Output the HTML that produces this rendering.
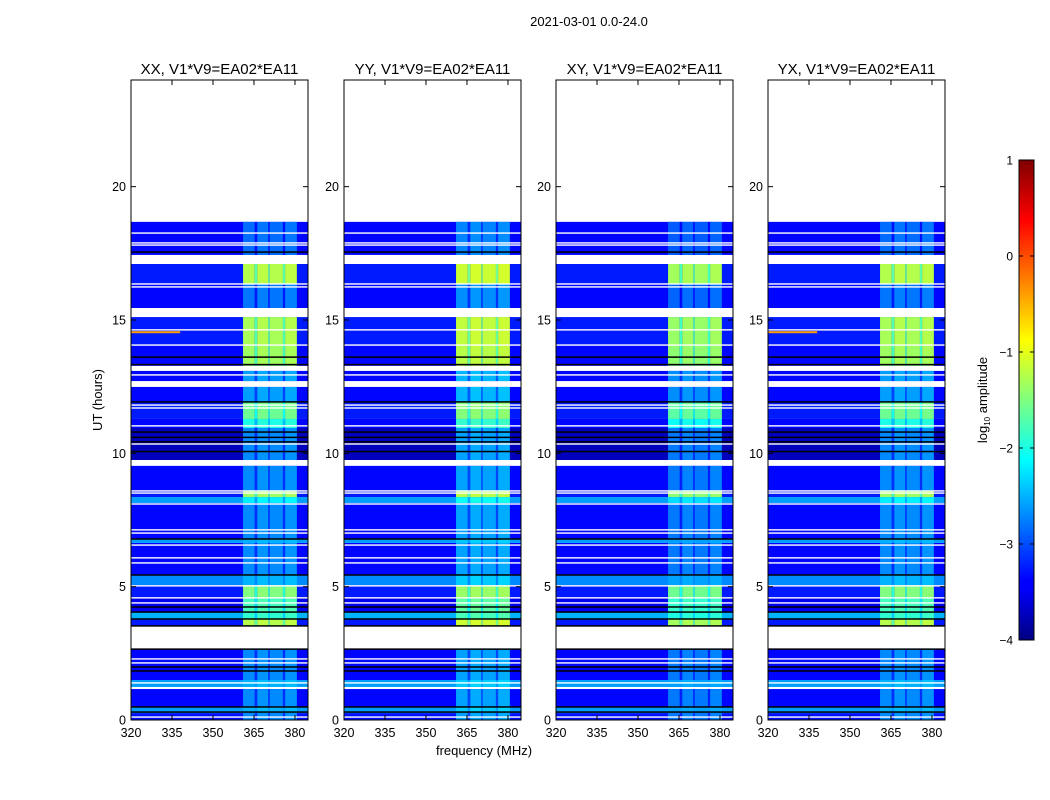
<!DOCTYPE html>
<html><head><meta charset="utf-8"><style>
body{margin:0;background:#fff;}
svg{display:block;font-family:"Liberation Sans","DejaVu Sans",sans-serif;}
</style></head><body>
<svg id="chart" width="1050" height="800" viewBox="0 0 1050 800">
<defs>
<linearGradient id="jet" x1="0" y1="1" x2="0" y2="0">
<stop offset="0" stop-color="#000080"/><stop offset="0.11" stop-color="#0000ff"/><stop offset="0.125" stop-color="#0000ff"/>
<stop offset="0.375" stop-color="#00ffff"/><stop offset="0.625" stop-color="#ffff00"/><stop offset="0.875" stop-color="#ff0000"/><stop offset="1" stop-color="#800000"/>
</linearGradient>
</defs>
<text x="589" y="26" font-size="13" text-anchor="middle">2021-03-01 0.0-24.0</text>
<text transform="translate(102,400) rotate(-90)" font-size="13" text-anchor="middle">UT (hours)</text>
<text x="484" y="755" font-size="13" text-anchor="middle">frequency (MHz)</text>
<g id="panels"></g>
<g>
<rect x="1019" y="160" width="15" height="480" fill="url(#jet)" stroke="#000" stroke-width="1"/>
<g id="cbticks"></g>
<text transform="translate(987,400) rotate(-90)" font-size="13" text-anchor="middle">log<tspan font-size="8" dy="3">10</tspan><tspan dy="-3"> amplitude</tspan></text>
</g>
</svg>
<script>
// ---- data ----
const panelTitles = ["XX, V1*V9=EA02*EA11","YY, V1*V9=EA02*EA11","XY, V1*V9=EA02*EA11","YX, V1*V9=EA02*EA11"];
const panelBandOffset = [0, 0.12, -0.08, 0];
// rows: [startHour, endHour, baseLevel, bandLevel]
const rowStart = [0,0.26,0.49,1.24,1.50,3.53,3.79,4.05,4.58,5.06,5.44,6.64,6.79,8.14,8.36,8.59,9.75,10.95,11.29,11.93,12.71,13.28,14.06,15.45,16.35,17.44];
const rowEnd   = [0.26,0.49,1.16,1.50,2.66,3.79,4.05,4.58,5.06,5.44,6.64,6.79,8.14,8.36,8.59,9.53,10.95,11.29,11.93,12.49,13.09,14.06,15.11,16.35,17.10,18.68];
const rowBase  = [-3.3,-2.6,-3.35,-2.6,-3.35,-3.25,-2.5,-3.45,-3.25,-2.7,-3.35,-2.6,-3.35,-2.6,-3.25,-3.35,-3.7,-3.35,-3.25,-3.35,-3.35,-3.35,-3.25,-3.35,-3.25,-3.35];
const rowBand  = [-2.7,-2.5,-2.7,-2.5,-2.7,-1.25,-1.9,-1.8,-1.5,-2.5,-2.7,-2.5,-2.7,-2.2,-1.35,-2.7,-2.7,-2.0,-1.6,-2.6,-2.6,-1.35,-1.3,-2.8,-1.25,-2.85];
// band sub-columns (MHz) and relative dimming
const bandLo  = [361.0,365.3,366.2,370.2,370.8,375.6,376.4];
const bandHi  = [365.3,366.2,370.2,370.8,375.6,376.4,380.7];
const bandDim = [0,-0.45,0.05,-0.35,0,-0.45,0.05];
const whiteLines = [0.11,1.39,2.14,2.29,4.39,4.58,5.03,5.89,6.08,6.56,7.01,7.13,8.10,8.51,8.59,10.35,11.03,11.70,11.81,12.94,14.06,14.63,16.24,16.35,17.81,17.89,18.26];
const blackLines = [0.30,0.49,1.84,1.99,2.66,3.53,3.79,4.05,4.24,5.44,6.79,10.07,10.43,10.6,10.8,11.93,13.33,13.61,17.55];
const xTicks = [320,335,350,365,380];
const yTicks = [0,5,10,15,20];
const cbTicks = [1,0,-1,-2,-3,-4];

const panelX = [131,344,556,768], PW=177, TOP=80, BOT=720, FMIN=320, FMAX=384.77, HMAX=24;
const NS="http://www.w3.org/2000/svg";
function xs(p,f){return panelX[p]+(f-FMIN)/(FMAX-FMIN)*PW;}
function ys(h){return BOT-(h/HMAX)*(BOT-TOP);}
function jet(v){const t=Math.max(0,Math.min(1,(v+4)/5));const c=x=>Math.round(255*Math.max(0,Math.min(1,1.5-Math.abs(x))));return `rgb(${c(4*t-3)},${c(4*t-2)},${c(4*t-1)})`;}
function mk(tag,attrs,parent){const e=document.createElementNS(NS,tag);for(const k in attrs)e.setAttribute(k,attrs[k]);parent.appendChild(e);return e;}
const root=document.getElementById('panels');
for(let p=0;p<4;p++){
  const g=mk('g',{},root);
  
  
  const t=mk('text',{x:panelX[p]+PW/2,y:74,'font-size':15,'text-anchor':'middle'},g);
  t.textContent=panelTitles[p];
  
  
  for(let i=0;i<rowStart.length;i++){
    const y1=ys(rowEnd[i]), y2=ys(rowStart[i]);
    const r=mk('rect',{x:xs(p,FMIN),y:y1,width:PW,height:y2-y1,fill:jet(rowBase[i])},g);
    
    
    for(let j=0;j<bandLo.length;j++){
      let lv=rowBand[i]+panelBandOffset[p]+bandDim[j];
      if(lv<rowBase[i])lv=rowBase[i];
      const b=mk('rect',{x:xs(p,bandLo[j]),y:y1,width:xs(p,bandHi[j])-xs(p,bandLo[j]),height:y2-y1,fill:jet(lv)},g);
      
      
    }
  }
  if(p===0||p===3){
    const s=mk('rect',{x:xs(p,320),y:ys(14.58),width:xs(p,338)-xs(p,320),height:2,fill:jet(-0.4)},g);
    
    
  }
  whiteLines.forEach(h=>{const l=mk('rect',{x:panelX[p],y:ys(h)-0.7,width:PW,height:1.4,fill:'#fff'},g);
    
    });
  blackLines.forEach(h=>{const l=mk('rect',{x:panelX[p],y:ys(h)-0.7,width:PW,height:1.5,fill:'#000'},g);
    
    });
  const fr=mk('rect',{x:panelX[p],y:TOP,width:PW,height:BOT-TOP,fill:'none',stroke:'#000','stroke-width':1},g);
  
  
  xTicks.forEach(f=>{const x=xs(p,f);
    mk('line',{x1:x,x2:x,y1:BOT,y2:BOT-5,stroke:'#000'},g);mk('line',{x1:x,x2:x,y1:TOP,y2:TOP+5,stroke:'#000'},g);
    const tl=mk('text',{x:x,y:BOT+17,'font-size':12.5,'text-anchor':'middle'},g);tl.textContent=f;
    
    });
  yTicks.forEach(h=>{const y=ys(h);
    mk('line',{x1:panelX[p],x2:panelX[p]+5,y1:y,y2:y,stroke:'#000'},g);mk('line',{x1:panelX[p]+PW,x2:panelX[p]+PW-5,y1:y,y2:y,stroke:'#000'},g);
    const tl=mk('text',{x:panelX[p]-5,y:y+4.5,'font-size':12.5,'text-anchor':'end'},g);tl.textContent=h;
    
    });
}
const cb=document.getElementById('cbticks');
cbTicks.forEach(v=>{const y=640-(v+4)/5*480;
  mk('line',{x1:1019,x2:1023,y1:y,y2:y,stroke:'#000'},cb);mk('line',{x1:1034,x2:1030,y1:y,y2:y,stroke:'#000'},cb);
  const tl=mk('text',{x:1013,y:y+4.5,'font-size':12,'text-anchor':'end'},cb);tl.textContent=(v<0?'\u2212'+(-v):v);
  
  });
</script>
</body></html>
